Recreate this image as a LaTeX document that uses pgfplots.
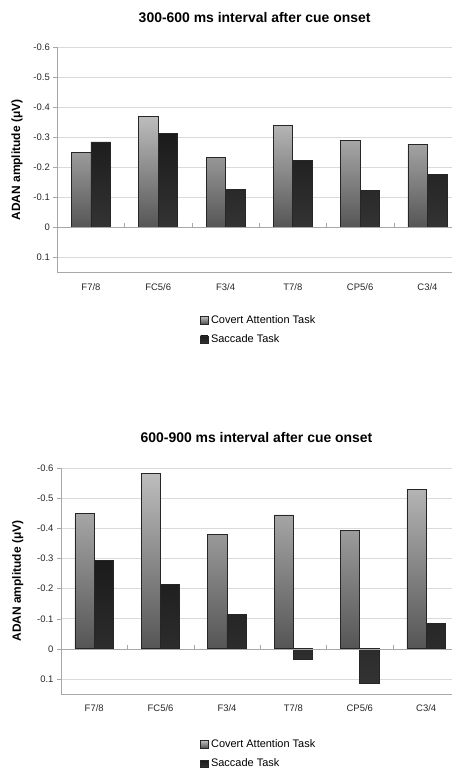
\documentclass[border=0pt]{standalone}
\usepackage{fontspec}
\setmainfont{Liberation Sans}
\usepackage{pgfplots}
\pgfplotsset{compat=1.18}
\definecolor{gridc}{HTML}{DADADA}
\definecolor{axc}{HTML}{A8A8A8}
\definecolor{covtop}{HTML}{BDBDBD}
\definecolor{covmid}{HTML}{8E8E8E}
\definecolor{covbot}{HTML}{555555}
\definecolor{sactop}{HTML}{1B1B1B}
\definecolor{sacbot}{HTML}{333333}
\definecolor{barline}{HTML}{262626}
\pgfplotsset{
  covert/.style={ybar, bar width=0.29, bar shift=-0.145, draw=barline, line width=0.8pt,
     top color=covtop, middle color=covmid, bottom color=covbot},
  saccade/.style={ybar, bar width=0.29, bar shift=0.145, draw=barline, line width=0.8pt,
     top color=sactop, bottom color=sacbot},
  adanstyle/.style={
    scale only axis,
    y dir=reverse,
    ymin=-0.6, ymax=0.15,
    xmin=-0.5,
    clip=false,
    axis line style={draw=none},
    ytick={-0.6,-0.5,-0.4,-0.3,-0.2,-0.1,0,0.1},
    yticklabels={-0.6,-0.5,-0.4,-0.3,-0.2,-0.1,0,0.1},
    xtick={0,1,2,3,4,5},
    xticklabels={F7/8,FC5/6,F3/4,T7/8,CP5/6,C3/4},
    ytick pos=left,
    tick align=outside,
    major tick length=4bp,
    y tick style={axc, line width=0.5pt},
    x tick style={draw=none},
    ymajorgrids,
    grid style={gridc, line width=0.6pt},
    tick label style={font=\fontsize{9.5}{11}\selectfont, text=black!85},
    xticklabel style={yshift=-3bp},
    ylabel={\bfseries ADAN amplitude (μV)},
    ylabel style={font=\fontsize{12}{14}\selectfont, anchor=center},
    title style={font=\fontsize{14}{16}\selectfont\bfseries, at={(axis description cs:0.5,1)}, anchor=center},
    legend cell align=left,
    legend style={draw=none, fill=none, font=\fontsize{11}{13}\selectfont, row sep=6bp, inner sep=0pt,
      nodes={inner xsep=3bp}},
  }
}
\pgfplotsset{legend image code/.code={\draw[#1, line width=0.5pt] (0bp,-3.6bp) rectangle (7.2bp,3.6bp);}}
\begin{document}
\begin{tikzpicture}
\useasboundingbox (0,0) rectangle (452bp,773bp);
% ---------- top panel ----------
\begin{axis}[adanstyle,
  at={(57.3bp,725.7bp)}, anchor=north west,
  width=394.7bp, height=225.4bp,
  xmax=5.365,
  title={300-600 ms interval after cue onset},
  title style={yshift=23.5bp},
  ylabel style={at={(axis description cs:-0.1021,0.5)}},
  legend style={at={(0.362,-0.18)}, anchor=north west},
]
\addplot[covert] coordinates {(0,-0.249) (1,-0.371) (2,-0.234) (3,-0.339) (4,-0.291) (5,-0.276)};
\addplot[saccade] coordinates {(0,-0.285) (1,-0.312) (2,-0.127) (3,-0.223) (4,-0.125) (5,-0.178)};
\legend{Covert Attention Task, Saccade Task}
\draw[axc, line width=0.6pt] (axis cs:-0.5,-0.6) -- (axis cs:-0.5,0.15) -- (axis cs:5.365,0.15);
\draw[axc, line width=0.6pt] (axis cs:-0.5,0) -- (axis cs:5.365,0);
\pgfplotsinvokeforeach{0.5,1.5,2.5,3.5,4.5}{\draw[axc, line width=0.5pt] (axis cs:#1,0) -- (axis cs:#1,-0.014);}
\end{axis}
% ---------- bottom panel ----------
\begin{axis}[adanstyle,
  at={(61bp,304.7bp)}, anchor=north west,
  width=391bp, height=225.7bp,
  xmax=5.389,
  title={600-900 ms interval after cue onset},
  title style={yshift=24.5bp},
  ylabel style={at={(axis description cs:-0.1107,0.5)}},
  legend style={at={(0.356,-0.192)}, anchor=north west},
]
\addplot[covert] coordinates {(0,-0.450) (1,-0.582) (2,-0.379) (3,-0.445) (4,-0.394) (5,-0.531)};
\addplot[saccade] coordinates {(0,-0.295) (1,-0.214) (2,-0.115) (3,0.035) (4,0.115) (5,-0.085)};
\legend{Covert Attention Task, Saccade Task}
\draw[axc, line width=0.6pt] (axis cs:-0.5,-0.6) -- (axis cs:-0.5,0.15) -- (axis cs:5.389,0.15);
\draw[axc, line width=0.6pt] (axis cs:-0.5,0) -- (axis cs:5.389,0);
\pgfplotsinvokeforeach{0.5,1.5,2.5,3.5,4.5}{\draw[axc, line width=0.5pt] (axis cs:#1,0) -- (axis cs:#1,-0.014);}
\end{axis}
\end{tikzpicture}
\end{document}
